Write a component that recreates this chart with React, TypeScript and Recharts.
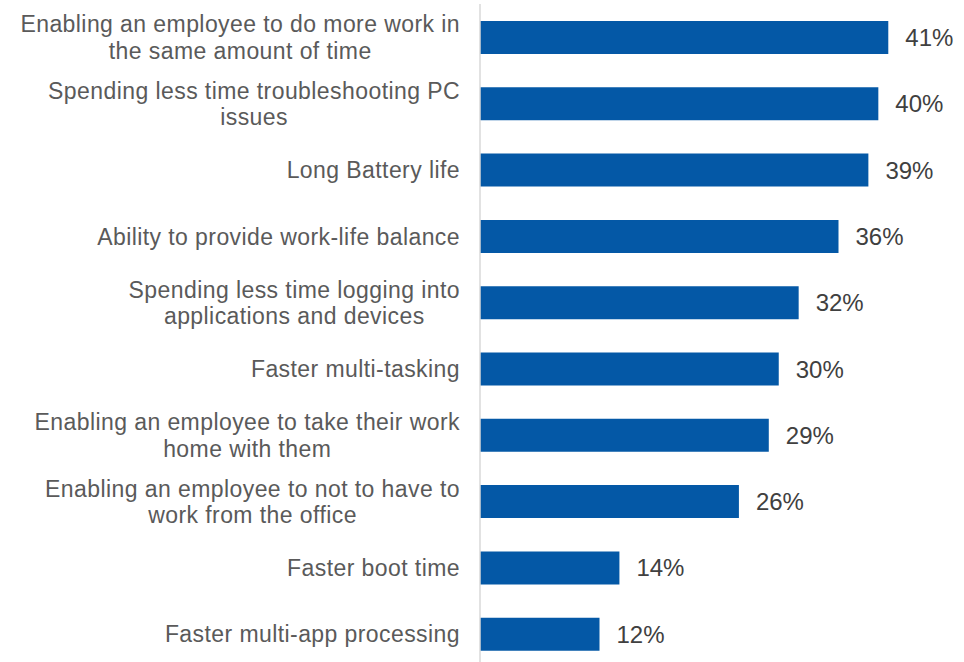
import { BarChart, Bar, XAxis, YAxis, LabelList } from 'recharts'

const CATEGORIES = [
  'Enabling an employee to do more work in\nthe same amount of time',
  'Spending less time troubleshooting PC\nissues',
  'Long Battery life',
  'Ability to provide work-life balance',
  'Spending less time logging into\napplications and devices',
  'Faster multi-tasking',
  'Enabling an employee to take their work\nhome with them',
  'Enabling an employee to not to have to\nwork from the office',
  'Faster boot time',
  'Faster multi-app processing',
]

const VALUES = [41, 40, 39, 36, 32, 30, 29, 26, 14, 12]

const data = CATEGORIES.map((name, i) => ({ name, value: VALUES[i] }))

const FONT = '"Liberation Sans", Arial, sans-serif'
const LABEL_SIZE = 23
const LABEL_SPACING = 0.42

let ctx: CanvasRenderingContext2D | null = null
function textWidth(s: string) {
  if (!ctx) ctx = document.createElement('canvas').getContext('2d')
  if (!ctx) return s.length * LABEL_SIZE * 0.5
  ctx.font = `${LABEL_SIZE}px "Liberation Sans"`
  return ctx.measureText(s).width + LABEL_SPACING * s.length
}

// right-aligned block, each line centred inside it (like the original)
function CategoryTick({ x, y, payload }: any) {
  const lines = String(payload.value).split('\n')
  const lh = 26.5
  const right = x - 12
  const maxW = Math.max(...lines.map(textWidth))
  const startY = y - ((lines.length - 1) * lh) / 2
  return (
    <text
      fill="#5a5a5a"
      fontSize={LABEL_SIZE}
      fontFamily={FONT}
      letterSpacing={LABEL_SPACING}
      textAnchor="middle"
    >
      {lines.map((l, i) => (
        <tspan key={i} x={right - maxW / 2} y={startY + i * lh} dy="0.37em">{l}</tspan>
      ))}
    </text>
  )
}

export default function App() {
  return (
    <div style={{ position: 'absolute', left: 0, top: 0, width: 964, height: 662, overflow: 'hidden', background: '#fff' }}>
      <BarChart
        width={964}
        height={670}
        data={data}
        layout="vertical"
        margin={{ top: 4, right: 6, left: 0, bottom: 3 }}
      >
        <XAxis type="number" domain={[0, 48]} hide />
        <YAxis
          type="category"
          dataKey="name"
          width={480}
          axisLine={{ stroke: '#d9d9d9', strokeWidth: 1.5 }}
          tickLine={false}
          tick={<CategoryTick />}
          interval={0}
        />
        <Bar dataKey="value" fill="#0458a6" barSize={33} isAnimationActive={false}>
          <LabelList
            dataKey="value"
            position="right"
            offset={17}
            formatter={(v: any) => `${v}%`}
            style={{ fill: '#404040', fontSize: 24, fontFamily: FONT }}
          />
        </Bar>
      </BarChart>
    </div>
  )
}
